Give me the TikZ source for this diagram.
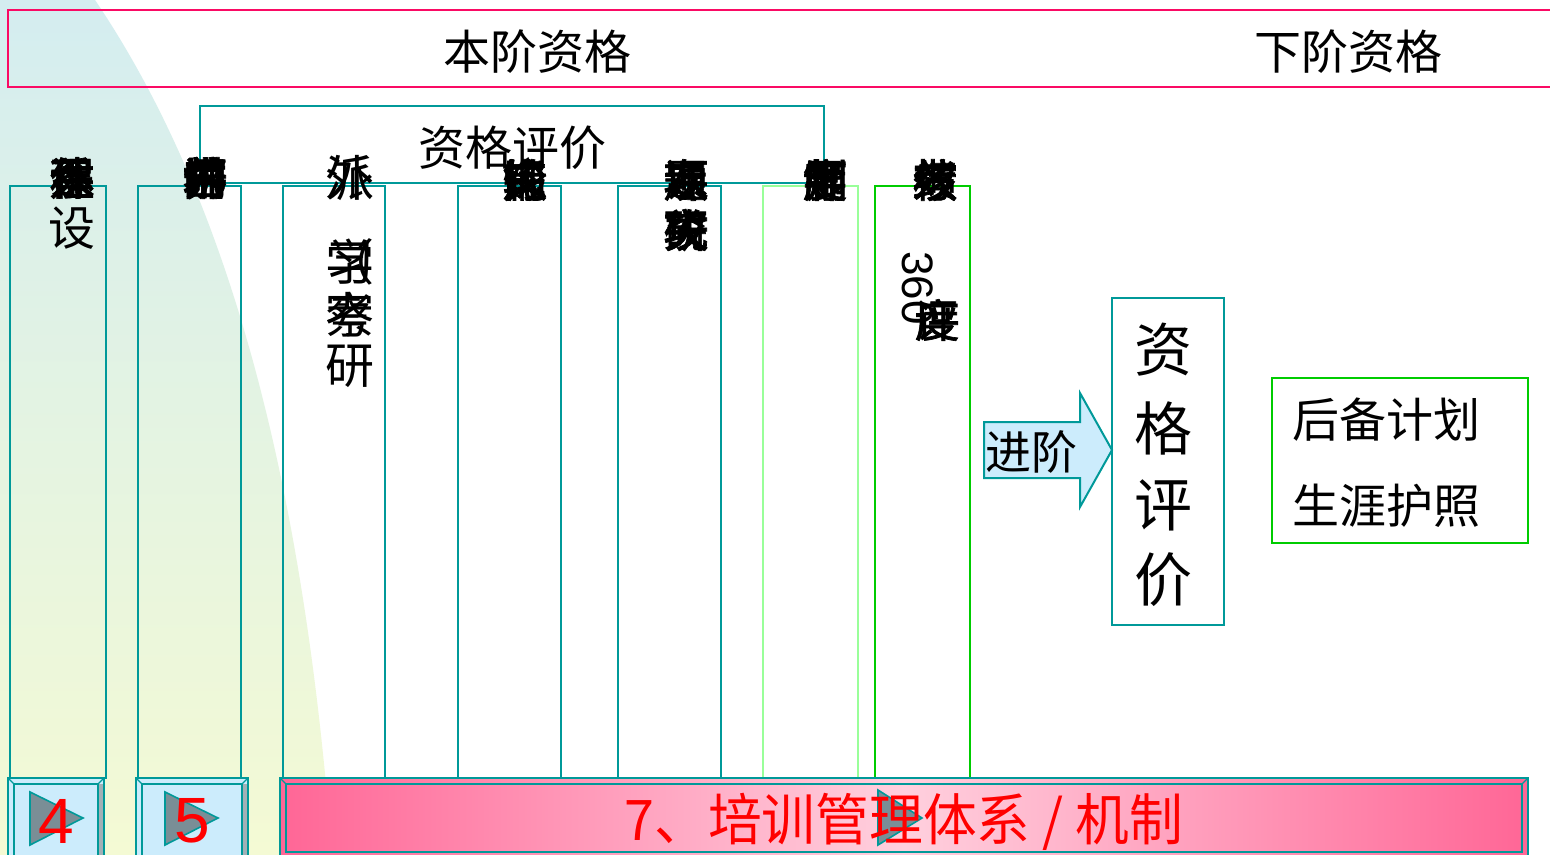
\documentclass[tikz,border=0pt]{standalone}
\usepackage{fontspec}
\setmainfont{Liberation Sans}
\newfontfamily\cjk{Noto Sans CJK SC}
\newfontfamily\cjkb[FakeBold=1.5]{Noto Sans CJK SC}
\definecolor{tealc}{RGB}{0,153,153}
\definecolor{pinkline}{RGB}{250,10,100}
\definecolor{lgreen}{RGB}{153,255,153}
\definecolor{dgreen}{RGB}{0,204,0}
\definecolor{lblue}{RGB}{204,236,252}
\definecolor{tri}{RGB}{122,142,150}
\definecolor{bgtop}{RGB}{212,237,240}
\definecolor{bgbot}{RGB}{244,250,212}
\definecolor{pinkA}{RGB}{255,102,150}
\definecolor{pinkB}{RGB}{255,208,222}
\newcommand{\ovl}[1]{\ovlx#1\relax}
\def\ovlx#1#2\relax{\ifx\relax#2\relax #1\else\rlap{#1}\ovlx#2\relax\fi}
\tikzset{
  x=0.5pt,y=-0.5pt,
  colbox/.style={draw=tealc,line width=1pt},
  ttl/.style={font=\cjk\fontsize{23.5}{28}\selectfont,inner sep=0pt},
  ctxt/.style={font=\cjkb\fontsize{22.5}{26}\selectfont,inner sep=0pt},
  ctxtn/.style={font=\cjk\fontsize{23.5}{26}\selectfont,inner sep=0pt},
  btnnum/.style={font=\fontsize{32}{34}\selectfont,text=red,inner sep=0pt},
}
\begin{document}
\begin{tikzpicture}
\useasboundingbox (0,0) rectangle (1550,855);
\fill[white] (0,0) rectangle (1550,855);
% background gradient shape
\shade[top color=bgtop,bottom color=bgbot] (0,0) -- (95,0) .. controls (210,170) and (300,430) .. (332,855) -- (0,855) -- cycle;
% top pink box
\draw[pinkline,line width=1pt] (1552,10) -- (8,10) -- (8,87) -- (1552,87);
\node[ttl] (ben) at (537,52) {本阶资格};
\node[ttl] (xia) at (1348,52) {下阶资格};
% qualification evaluation box
\draw[colbox] (200,106) rectangle (824,183);
\node[ttl] (zgpj) at (512,148) {资格评价};
% columns
\draw[colbox] (10,186) rectangle (106,778);
\draw[colbox] (138,186) rectangle (241,778);
\draw[colbox] (283,186) rectangle (385,778);
\draw[colbox] (458,186) rectangle (561,778);
\draw[colbox] (618,186) rectangle (721,778);
\draw[draw=lgreen,line width=1pt] (763,186) rectangle (858,778);
\draw[draw=dgreen,line width=1pt] (875,186) rectangle (970,778);
% column texts (overlapping glyphs)
\node[ctxt] (c1a) at (72,178) {\ovl{课程体系建}};
\node[ctxtn] (c1b) at (72,228) {设};
\node[ctxt] (c2a) at (205,178) {\ovl{内部讲师培养}};
\node[ctxtn,font=\cjk\fontsize{24.5}{28}\selectfont] (c3a) at (350,178) {\ovl{外派}};
\node[ctxtn,font=\cjk\fontsize{24.5}{28}\selectfont] (c3b) at (350,262) {\ovl{（学习}};
\node[ctxtn,font=\cjk\fontsize{24.5}{28}\selectfont] (c3c) at (350,315) {\ovl{考察}};
\node[ctxtn,font=\cjk\fontsize{24.5}{28}\selectfont] (c3d) at (350,366) {研};
\node[ctxt] (c4a) at (525,180) {\ovl{轮岗锻炼}};
\node[ctxt] (c5a) at (686,180) {\ovl{专项课题}};
\node[ctxt] (c5b) at (686,230) {\ovl{攻关研究}};
\node[ctxt] (c6a) at (825,180) {\ovl{导师制度}};
\node[ctxt] (c7a) at (935,180) {\ovl{绩效考核}};
\node[font=\fontsize{22}{26}\selectfont,inner sep=0pt,rotate=-90] (c7b) at (918,288) {360};
\node[ctxt] (c7c) at (937,320) {\ovl{评度}};
% advance arrow
\draw[tealc,fill=lblue,line width=1pt] (984,422) -- (1080,422) -- (1080,393) -- (1112,450) -- (1080,507) -- (1080,478) -- (984,478) -- cycle;
\node[ttl,font=\cjk\fontsize{23}{26}\selectfont] (jj) at (1031,452) {进阶};
% vertical evaluation box
\draw[colbox] (1112,298) rectangle (1224,625);
\node[font=\cjk\fontsize{29}{32}\selectfont,inner sep=0pt] (v1) at (1163,350) {资};
\node[font=\cjk\fontsize{29}{32}\selectfont,inner sep=0pt] (v2) at (1163,428) {格};
\node[font=\cjk\fontsize{29}{32}\selectfont,inner sep=0pt] (v3) at (1163,505) {评};
\node[font=\cjk\fontsize{29}{32}\selectfont,inner sep=0pt] (v4) at (1163,580) {价};
% green box
\draw[dgreen,line width=1pt] (1272,378) rectangle (1528,543);
\node[ttl] (hb) at (1386,420) {后备计划};
\node[ttl] (sy) at (1386,506) {生涯护照};
% button 4
\fill[lblue] (8,778) rectangle (104,855);
\fill[tri!70] (98,784) rectangle (104,855);
\draw[tealc,line width=1pt] (8,778) rectangle (104,857);
\draw[tealc,line width=1pt] (14,784) rectangle (98,857);
\draw[tealc,line width=0.6pt] (8,778) -- (14,784) (104,778) -- (98,784);
\draw[tealc,fill=tri,line width=0.8pt] (30,792) -- (83,818) -- (30,845) -- cycle;
\node[btnnum] (n4) at (56,821) {4};
% button 5
\fill[lblue] (136,778) rectangle (248,855);
\fill[tri!70] (242,784) rectangle (248,855);
\draw[tealc,line width=1pt] (136,778) rectangle (248,857);
\draw[tealc,line width=1pt] (142,784) rectangle (242,857);
\draw[tealc,line width=0.6pt] (136,778) -- (142,784) (248,778) -- (242,784);
\draw[tealc,fill=tri,line width=0.8pt] (165,792) -- (218,818) -- (165,845) -- cycle;
\node[btnnum] (n5) at (192,821) {5};
% pink bar
\shade[left color=pinkA,right color=pinkA,middle color=pinkB] (280,778) rectangle (1528,855);
\draw[tealc,line width=1pt] (280,778) rectangle (1528,857);
\draw[tealc,line width=1pt] (286,784) rectangle (1522,852);
\draw[tealc,line width=0.6pt] (280,778) -- (286,784) (1528,778) -- (1522,784);
\draw[tealc,fill=tri,line width=0.8pt] (878,790) -- (922,818) -- (878,845) -- cycle;
\node[inner sep=0pt,text=red,font=\cjk\fontsize{28}{30}\selectfont,xscale=0.96] (bar) at (904,822) {7、培训管理体系 / 机制};
\end{tikzpicture}
\end{document}
